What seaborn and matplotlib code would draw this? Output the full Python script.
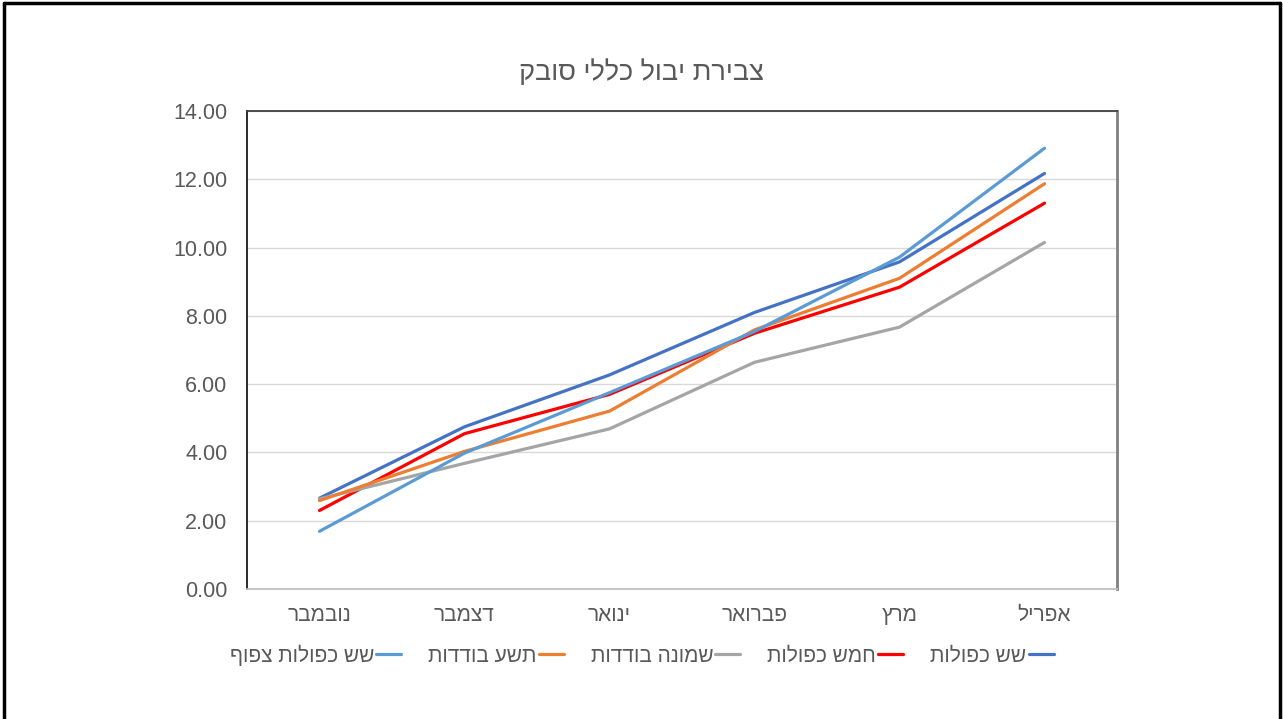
import pandas as pd
import matplotlib
matplotlib.use("Agg")
import matplotlib.pyplot as plt
from matplotlib.lines import Line2D
from matplotlib.ticker import FormatStrFormatter
import seaborn as sns


def rtl(s):
    # matplotlib has no bidi support, flip Hebrew for display
    return s[::-1]


# -------------------------------------------------------------
# data
title = "צבירת יבול כללי סובק"
months = ["נובמבר", "דצמבר", "ינואר", "פברואר", "מרץ", "אפריל"]

series_names = ["שש כפולות", "חמש כפולות", "שמונה בודדות", "תשע בודדות", "שש כפולות צפוף"]
six_double = [2.66, 4.75, 6.27, 8.10, 9.58, 12.17]
five_double = [2.30, 4.55, 5.70, 7.49, 8.84, 11.30]
eight_single = [2.64, 3.68, 4.69, 6.64, 7.67, 10.15]
nine_single = [2.59, 4.03, 5.21, 7.59, 9.10, 11.87]
six_double_dense = [1.69, 3.98, 5.75, 7.54, 9.72, 12.91]

colors = ["#4472C4", "#FF0000", "#A5A5A5", "#ED7D31", "#5B9BD5"]

# -------------------------------------------------------------
rows = []
for name, vals in zip(series_names, [six_double, five_double, eight_single, nine_single, six_double_dense]):
    for m, v in zip(months, vals):
        rows.append({"month": rtl(m), "value": v, "series": rtl(name)})
df = pd.DataFrame(rows)

sns.set_style("white")
plt.rcParams["font.family"] = ["Liberation Sans", "DejaVu Sans"]

fig = plt.figure(figsize=(12.83, 7.19), dpi=100)
ax = fig.add_axes([247 / 1283, 1 - 589 / 719, (1117 - 247) / 1283, (589 - 111) / 719])

palette = dict(zip([rtl(n) for n in series_names], colors))
sns.lineplot(data=df, x="month", y="value", hue="series", palette=palette,
             hue_order=[rtl(n) for n in series_names], sort=False,
             linewidth=2.3, ax=ax, legend=False)

ax.set_xlim(-0.5, len(months) - 0.5)
ax.set_ylim(0, 14)
ax.set_yticks(range(0, 15, 2))
ax.yaxis.set_major_formatter(FormatStrFormatter("%.2f"))
ax.set_xlabel("")
ax.set_ylabel("")
ax.grid(axis="y", color="#D9D9D9", linewidth=1)
ax.set_axisbelow(True)
ax.tick_params(axis="y", length=0, labelsize=15.5, colors="#595959", pad=14)
ax.tick_params(axis="x", length=0, labelsize=15, colors="#595959", pad=12)

ax.spines["left"].set_color("#1a1a1a")
ax.spines["left"].set_linewidth(1.3)
ax.spines["top"].set_color("#404040")
ax.spines["top"].set_linewidth(1.3)
ax.spines["right"].set_color("#808080")
ax.spines["right"].set_linewidth(2)
ax.spines["bottom"].set_color("#BFBFBF")
ax.spines["bottom"].set_linewidth(1.3)

fig.text(0.5, 1 - 73 / 719, rtl(title), ha="center", va="center",
         fontsize=19.5, color="#595959")

# legend, right-to-left, handle after text
handles = [Line2D([0], [0], color=c, linewidth=2.3) for c in colors]
labels = [rtl(n) for n in series_names]
leg = fig.legend(handles[::-1], labels[::-1], loc="center",
                 bbox_to_anchor=(0.5, 1 - 655 / 719), ncol=5, frameon=False,
                 markerfirst=False, fontsize=15, handlelength=1.2,
                 handletextpad=0.1, columnspacing=1.3)
for t in leg.get_texts():
    t.set_color("#595959")

# outer frame (left, top, right)
for xs, ys in [([0.003, 0.003], [0, 0.996]), ([0.003, 0.998], [0.996, 0.996]),
               ([0.998, 0.998], [0, 0.996])]:
    fig.add_artist(Line2D(xs, ys, color="black", linewidth=2.5, transform=fig.transFigure))

fig.savefig("out.png", dpi=100, facecolor="white")
